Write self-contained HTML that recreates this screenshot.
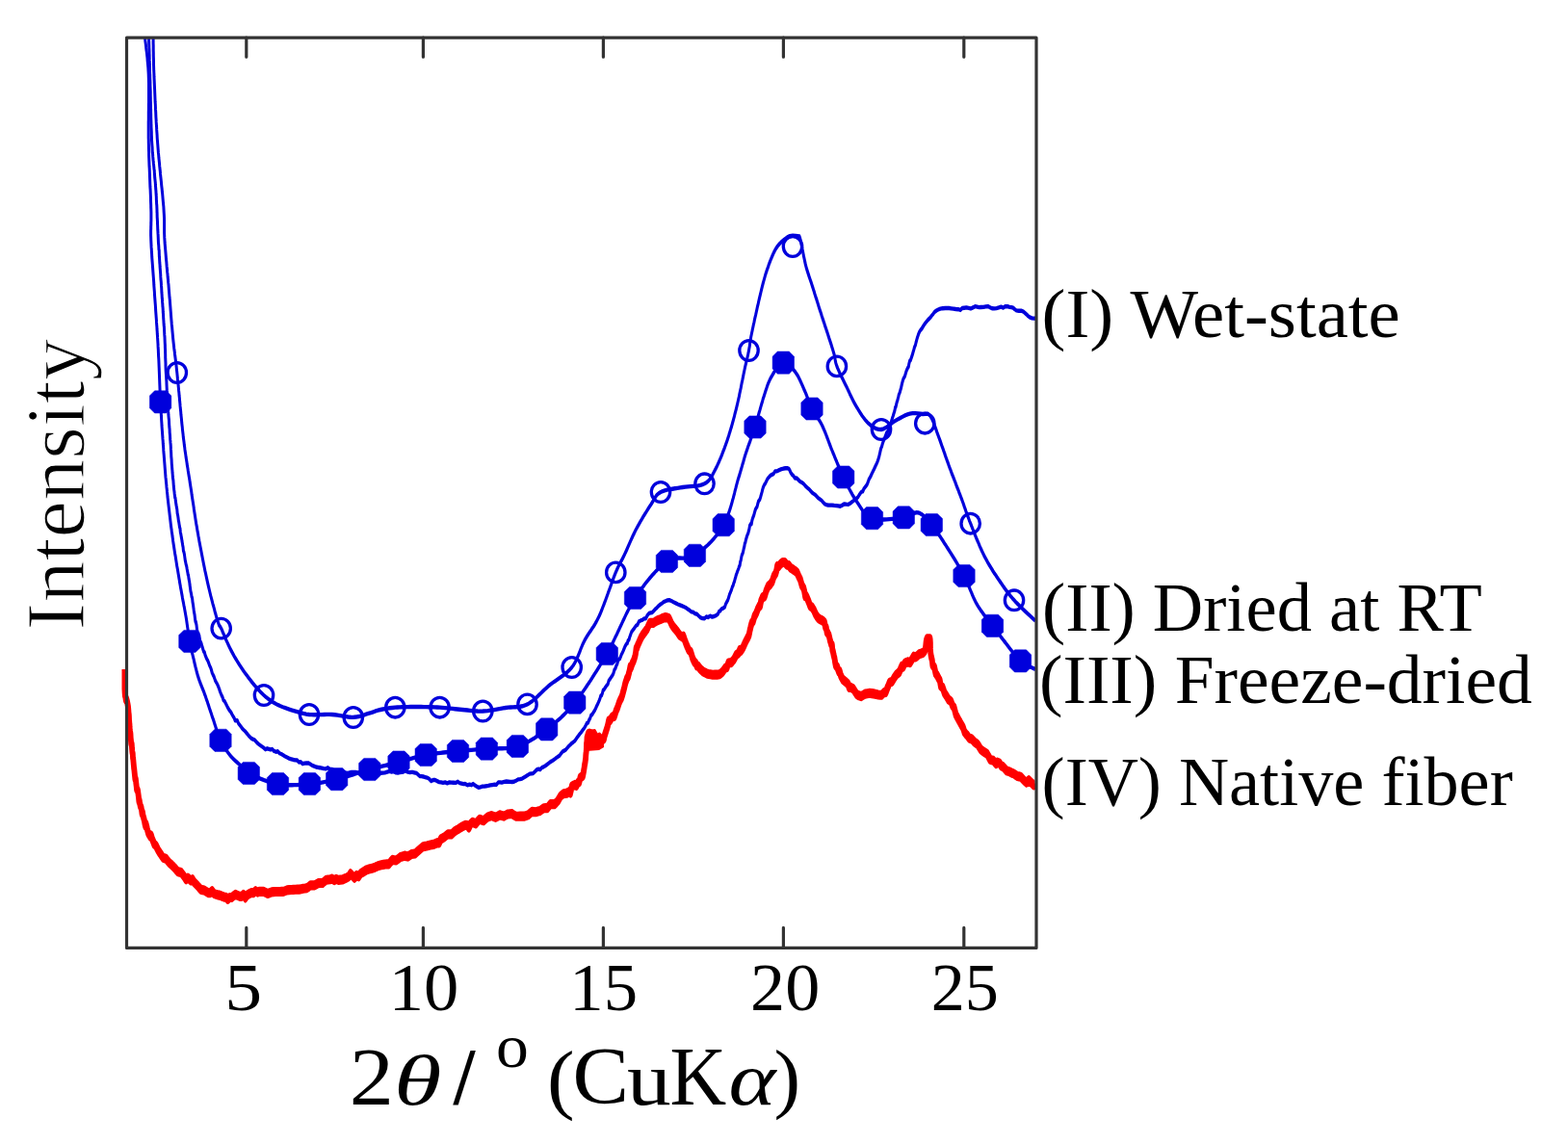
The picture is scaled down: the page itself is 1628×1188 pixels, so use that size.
<!DOCTYPE html>
<html><head><meta charset="utf-8"><title>XRD patterns</title>
<style>html,body{margin:0;padding:0;background:#fff;}svg{display:block;}</style>
</head><body>
<svg width="1628" height="1188" viewBox="0 0 1628 1188">
<defs><clipPath id="c"><rect x="126.5" y="39.2" width="949.5" height="945.1999999999999"/></clipPath></defs>
<rect width="1628" height="1188" fill="#fff"/>
<g clip-path="url(#c)"><polygon points="609,758 618,757 621,762 627,763 627,776 622,779 609,780" fill="#ff0000"/><g transform="scale(1,1.75)"><polyline points="128.0,397.14 128.0,397.90 128.1,398.17 128.1,399.78 128.2,401.53 128.2,402.69 128.3,403.91 128.4,405.53 128.6,407.12 128.8,408.12 129.0,409.02 129.3,410.71 129.7,412.35 130.2,413.17 130.7,415.21 131.2,414.82 131.7,415.68 132.2,416.86 132.6,418.10 133.0,419.36 133.2,420.33 133.4,421.80 133.6,423.32 133.8,424.05 133.9,424.80 134.1,427.67 134.2,428.09 134.3,429.00 134.5,429.90 134.6,431.49 134.8,433.07 135.0,434.27 135.2,435.48 135.5,435.50 135.7,438.01 136.0,439.57 136.2,441.13 136.5,441.47 136.8,441.81 137.0,443.86 137.3,445.90 137.5,446.67 137.8,447.42 138.0,449.84 138.2,449.96 138.4,451.27 138.6,452.55 138.8,453.87 139.0,455.16 139.1,455.79 139.3,456.40 139.5,457.55 139.7,458.70 140.0,460.39 140.3,462.09 140.6,462.32 140.9,462.56 141.2,464.28 141.6,466.00 142.0,468.37 142.3,468.28 142.7,468.80 143.1,469.32 143.5,471.06 143.9,472.80 144.3,475.28 144.8,475.29 145.2,476.71 145.7,478.14 146.1,478.68 146.6,479.21 147.1,481.00 147.5,482.77 148.0,482.13 148.6,484.19 149.2,485.45 149.8,486.69 150.3,488.36 151.0,489.99 151.6,489.04 152.3,490.52 153.0,492.32 153.9,494.21 154.9,495.23 155.9,496.20 156.9,495.70 157.9,497.65 159.0,499.19 160.0,500.74 161.1,501.40 162.1,502.03 163.1,503.26 164.2,504.50 165.5,505.69 167.0,506.91 168.2,507.97 169.4,509.04 170.8,509.29 172.3,509.56 173.8,510.63 175.3,511.70 176.9,512.52 178.4,513.32 180.0,514.26 181.6,515.18 183.2,516.24 184.8,517.29 186.4,517.50 188.1,517.70 189.8,519.00 191.5,520.30 193.2,521.86 195.0,520.94 196.6,521.75 198.2,522.57 199.9,521.82 201.6,523.55 203.3,524.52 205.0,525.48 206.7,526.65 208.5,527.79 210.2,528.08 212.0,528.32 214.0,529.05 216.0,529.77 218.1,529.84 220.2,528.64 222.3,530.33 224.4,530.73 226.5,531.08 228.6,531.36 230.7,531.88 232.7,532.32 234.7,532.43 236.6,533.70 238.5,532.55 240.4,532.60 242.4,531.69 244.5,530.77 246.7,531.32 249.0,531.89 250.8,531.95 252.8,530.77 254.7,532.76 256.8,531.04 258.9,530.38 261.0,529.72 263.1,529.82 265.3,528.68 267.4,529.46 269.5,529.00 271.6,529.03 273.7,529.08 275.8,529.68 277.8,530.29 279.9,529.82 282.0,529.35 284.1,529.25 286.2,529.15 288.3,529.13 290.3,529.12 292.3,529.11 294.3,529.10 296.2,528.66 298.0,528.23 300.3,528.10 302.5,527.99 304.7,527.91 306.7,527.84 308.7,527.82 310.7,527.79 312.7,527.55 314.7,527.28 316.7,527.14 318.7,526.95 320.7,526.13 322.6,525.27 324.5,525.33 326.4,525.38 328.4,524.74 330.5,524.11 332.7,524.02 335.0,523.97 336.8,523.04 338.8,522.12 340.7,521.98 342.8,521.84 344.9,521.48 347.0,522.35 349.1,521.66 351.3,522.19 353.4,522.10 355.5,521.99 357.6,521.45 359.7,520.89 361.8,520.27 363.9,518.39 366.0,519.72 368.1,521.03 370.3,519.36 372.4,520.15 374.5,518.27 376.5,517.63 378.5,516.92 380.4,516.22 382.3,515.89 384.0,515.59 386.4,515.24 388.5,514.91 390.4,514.39 392.3,513.88 394.1,513.59 395.9,513.30 397.9,513.09 400.0,512.86 401.8,512.80 403.7,512.75 405.5,511.49 407.5,510.23 409.4,510.40 411.4,510.54 413.5,509.60 415.6,508.62 417.8,508.22 420.0,507.79 421.8,508.07 423.6,508.32 425.4,507.59 427.3,506.85 429.2,506.68 431.2,506.49 433.1,505.46 435.1,504.41 437.1,503.41 439.1,502.39 441.1,502.21 443.0,502.04 445.0,501.69 446.8,501.39 448.6,501.22 450.4,501.05 452.3,500.56 454.1,500.07 455.9,500.24 457.7,497.95 459.6,497.34 461.4,496.74 463.2,495.88 465.0,495.03 466.9,495.06 468.7,495.10 470.5,494.14 472.3,493.18 474.1,492.59 475.9,492.00 477.7,491.33 479.6,490.66 481.4,490.12 483.2,489.59 485.0,489.78 486.8,491.21 488.6,488.92 490.4,487.88 492.2,488.31 494.0,488.77 495.8,487.48 497.9,486.17 500.0,486.58 502.1,487.02 504.2,485.92 506.3,484.85 508.4,484.44 510.5,484.06 512.6,484.53 514.7,485.03 516.8,484.33 518.9,483.64 521.0,483.98 523.1,484.35 525.2,483.72 527.3,483.13 529.4,483.00 531.5,482.89 533.6,483.68 535.8,484.45 537.9,484.40 540.0,484.31 542.1,484.37 544.2,484.38 546.3,484.03 548.3,483.63 550.3,482.64 552.4,481.61 554.4,481.75 556.5,481.87 558.6,481.48 560.7,481.08 562.7,480.32 564.6,479.56 566.5,479.54 568.3,479.53 569.9,478.36 571.5,477.21 573.8,477.22 575.7,477.24 577.5,476.27 579.1,475.30 580.6,473.86 582.0,472.42 583.5,471.71 585.0,471.00 586.8,470.83 588.6,470.64 590.4,469.97 592.2,470.54 593.8,466.49 595.4,466.18 596.8,465.66 598.5,466.18 600.0,464.53 601.4,464.12 602.5,461.41 603.6,461.03 604.4,460.75 605.1,460.40 605.6,458.89 606.1,457.33 606.6,455.66 607.0,453.95 607.3,453.12 607.6,452.23 607.8,451.18 608.1,450.12 608.2,448.72 608.4,447.34 608.6,446.40 608.8,445.31 608.9,443.41 609.0,441.56 609.1,440.98 609.3,440.50 609.5,437.79 610.1,436.71 610.8,435.52 612.0,435.16 613.3,435.54 614.8,436.55 616.4,436.27 618.0,438.12 620.1,438.59 622.2,437.51 624.0,439.03 625.6,438.80 627.0,438.56 627.7,436.51 628.5,435.10 629.4,433.55 630.3,431.92 631.1,430.38 632.0,427.76 633.3,427.51 634.6,426.37 635.8,425.28 637.0,425.18 637.9,425.06 638.7,423.59 639.5,422.09 640.3,421.03 641.0,420.10 641.9,418.52 642.7,417.14 644.0,415.36 644.5,414.86 645.0,414.32 645.5,413.67 646.2,412.39 646.8,411.05 647.5,409.57 648.2,408.06 648.8,406.49 649.5,404.93 650.2,403.83 650.8,402.78 651.4,402.17 652.0,401.66 652.9,399.68 653.7,397.80 654.4,395.62 655.2,395.98 655.9,394.76 656.6,393.59 657.3,392.82 657.9,392.07 658.7,390.63 659.4,389.29 660.0,387.57 660.6,384.64 661.3,384.44 662.0,382.97 662.8,382.04 663.5,381.09 664.3,380.04 665.1,379.01 666.0,378.01 667.0,377.04 668.1,376.15 669.2,375.26 670.5,374.23 671.8,373.25 673.2,371.39 674.7,369.63 676.4,369.62 678.3,369.66 680.2,368.93 682.2,368.29 684.0,367.83 685.7,367.50 688.5,366.72 690.9,366.36 693.2,366.58 694.6,366.98 695.9,368.55 697.2,370.29 698.5,371.48 700.0,372.63 701.3,373.49 702.7,374.38 704.2,375.67 705.7,376.97 707.1,377.47 708.4,377.97 709.6,377.56 710.8,379.64 711.8,381.24 712.9,382.86 714.0,384.25 715.0,385.64 716.0,386.20 717.1,386.81 718.1,388.60 719.0,390.36 720.0,391.68 721.0,392.89 722.3,393.48 723.5,395.12 724.9,395.30 726.7,396.73 728.2,397.59 730.0,398.51 731.9,399.13 733.8,399.67 735.7,400.01 737.5,400.14 739.9,400.40 742.3,400.32 744.6,400.37 747.0,400.12 748.5,399.54 750.0,398.80 751.6,397.57 753.1,396.25 754.7,396.11 756.2,393.51 757.7,393.32 759.1,393.20 760.5,392.35 761.8,391.50 763.1,390.12 764.4,388.69 765.7,388.10 767.0,387.42 768.1,385.62 769.2,386.21 770.4,385.17 771.6,384.09 772.7,382.63 773.8,381.18 774.8,380.06 775.8,378.99 776.6,378.12 777.5,377.05 778.1,375.50 778.6,373.98 779.1,372.90 779.5,371.82 780.0,370.73 780.6,369.63 781.3,369.10 781.9,368.62 782.6,367.27 783.3,365.89 784.1,365.02 785.0,364.06 786.0,362.59 786.7,361.51 787.5,360.64 788.3,359.71 789.2,359.48 790.1,356.75 791.0,355.51 791.9,354.28 792.8,354.16 793.7,354.07 794.6,352.42 795.4,350.83 796.5,349.34 797.6,347.91 798.7,347.35 799.7,346.84 800.7,345.98 801.7,345.15 802.6,343.53 803.5,341.92 804.5,341.06 805.4,340.18 806.2,338.63 807.0,335.95 807.9,336.35 808.9,335.75 810.7,334.51 812.7,333.69 814.8,333.72 817.0,335.25 818.9,335.42 820.9,337.03 822.9,337.71 824.8,338.52 826.4,339.16 827.5,339.72 828.4,340.84 829.3,342.06 830.1,342.95 830.9,343.90 831.8,345.76 832.6,347.35 833.4,348.13 834.3,348.96 835.1,350.73 836.0,353.72 836.9,353.50 837.7,354.46 838.5,355.57 839.5,356.93 840.4,358.31 841.3,359.62 842.2,360.01 843.1,360.34 844.0,361.16 845.1,362.15 846.1,363.47 847.1,364.74 848.2,365.72 849.3,366.60 850.9,367.36 852.7,367.89 854.5,368.50 856.0,369.36 857.0,372.07 857.8,372.45 858.6,375.20 859.3,375.52 860.0,376.34 860.6,376.92 861.2,378.42 861.8,379.94 862.4,380.98 862.9,382.11 863.5,382.54 863.9,382.78 864.3,385.79 864.8,386.41 865.2,387.55 865.6,388.69 866.0,389.72 866.5,390.67 867.0,392.65 867.7,394.87 868.5,395.39 869.3,395.83 870.1,397.24 870.9,398.58 871.8,398.41 872.9,400.78 874.0,402.04 875.1,403.23 876.3,403.81 877.7,404.46 878.9,405.07 880.3,405.73 881.7,408.00 883.2,407.76 884.6,408.33 886.0,408.79 887.9,410.54 889.7,412.12 891.7,412.74 894.0,413.18 895.9,412.55 898.2,411.80 900.6,411.58 902.9,411.32 905.1,411.48 907.0,411.67 909.7,411.97 911.8,412.26 914.0,412.43 915.3,412.43 916.7,411.66 918.2,410.74 919.6,410.89 921.1,408.53 922.5,406.68 923.7,404.95 924.9,404.73 926.1,404.46 927.3,403.35 928.4,402.26 929.6,401.24 930.7,400.30 932.2,399.57 933.6,398.94 935.0,397.08 936.4,395.26 937.8,395.73 939.5,393.51 941.1,393.09 942.9,392.73 944.8,393.26 946.6,391.59 948.6,389.52 950.7,389.96 952.6,389.07 954.3,388.16 956.6,387.72 958.5,387.29 960.0,386.30 960.7,385.31 961.2,383.16 961.6,380.94 962.0,379.79 962.5,379.07 965.5,379.00 965.7,379.68 965.8,380.56 965.9,381.62 965.9,383.32 966.0,385.09 966.1,386.18 966.2,387.22 966.5,388.53 966.9,389.75 967.3,390.78 967.8,391.79 968.3,394.67 968.8,395.08 969.5,395.50 970.1,395.92 970.8,397.78 971.5,399.65 972.3,400.28 973.1,400.91 974.0,401.92 974.9,402.93 975.8,403.80 976.8,407.13 977.8,407.58 978.7,407.86 979.7,409.55 980.6,411.20 981.6,412.06 982.6,412.94 983.7,413.98 984.8,415.11 986.0,415.57 987.3,416.17 988.1,417.36 988.9,418.63 989.8,419.30 990.7,420.03 991.6,422.03 992.5,424.05 993.5,425.15 994.5,426.26 995.4,427.23 996.4,428.18 997.3,429.13 998.2,430.03 999.1,430.94 999.9,431.77 1000.7,433.13 1001.4,434.38 1003.0,435.60 1004.3,436.35 1005.4,437.29 1006.4,438.09 1007.6,438.25 1009.0,438.58 1010.4,439.48 1011.8,440.36 1013.4,441.00 1015.0,441.66 1016.7,443.20 1018.4,444.81 1020.3,445.65 1021.7,446.27 1023.2,446.73 1024.8,447.26 1026.5,448.98 1028.1,450.72 1029.8,451.06 1031.4,451.35 1032.9,452.34 1034.3,453.22 1035.5,452.32 1037.9,452.94 1039.7,454.62 1041.3,454.90 1043.0,455.89 1044.9,457.25 1046.8,457.66 1048.7,458.08 1050.6,458.69 1052.5,459.07 1054.4,459.81 1056.3,460.52 1058.2,460.78 1060.1,461.11 1061.9,462.26 1063.8,463.42 1065.8,464.39 1068.2,462.95 1070.9,464.49 1073.3,465.95 1075.0,465.37" fill="none" stroke="#ff0000" stroke-width="5.8" stroke-linejoin="round" stroke-linecap="butt"/></g><g transform="scale(1,1.45)" fill="none" stroke="#0000dc" stroke-width="3.0" stroke-linejoin="round"><polyline points="154.5,26.21 154.5,26.55 154.6,27.25 154.6,28.55 154.6,29.03 154.7,30.58 154.7,31.30 154.8,32.88 154.8,34.52 154.9,34.82 155.0,37.00 155.0,38.20 155.1,39.45 155.1,40.40 155.2,43.19 155.3,44.41 155.3,45.64 155.4,47.54 155.5,50.36 155.5,50.79 155.6,53.03 155.7,53.74 155.7,55.34 155.8,57.17 155.9,58.96 155.9,60.78 156.0,62.56 156.1,64.26 156.1,64.14 156.2,65.56 156.2,66.99 156.2,67.75 156.3,70.34 156.3,71.96 156.4,73.60 156.4,74.71 156.5,75.83 156.5,77.10 156.6,78.38 156.6,80.23 156.7,82.08 156.7,82.79 156.7,83.50 156.8,85.53 156.9,87.56 156.9,88.53 157.0,89.50 157.0,90.79 157.1,92.07 157.2,93.43 157.3,94.79 157.3,96.29 157.4,97.79 157.5,100.43 157.6,101.23 157.7,102.07 157.8,103.04 158.0,104.79 158.1,105.62 158.2,108.00 158.4,109.46 158.6,110.66 158.7,111.86 158.9,113.39 159.1,114.92 159.3,115.93 159.4,116.94 159.6,118.31 159.8,119.68 160.0,121.15 160.2,121.71 160.4,124.34 160.6,126.06 160.7,127.22 160.9,128.37 161.1,129.64 161.3,130.90 161.4,132.46 161.6,134.01 161.7,135.26 161.9,136.51 162.0,137.74 162.1,139.03 162.3,140.81 162.4,143.49 162.5,143.89 162.6,146.12 162.7,146.24 162.8,147.28 162.9,148.91 163.0,150.53 163.0,151.87 163.1,152.29 163.2,155.75 163.3,156.47 163.4,157.73 163.5,158.99 163.5,160.02 163.6,161.05 163.7,162.95 163.8,164.85 163.9,165.57 164.0,167.20 164.1,167.90 164.2,169.51 164.3,171.16 164.4,172.80 164.5,174.65 164.6,174.68 164.8,176.33 164.9,177.99 165.0,179.06 165.2,179.21 165.3,182.01 165.4,183.90 165.6,185.38 165.7,186.87 165.8,188.14 166.0,189.40 166.1,191.05 166.3,192.69 166.4,193.68 166.5,194.66 166.7,196.36 166.8,198.06 167.0,200.31 167.1,200.73 167.3,202.12 167.4,203.51 167.5,204.82 167.7,206.13 167.8,207.81 167.9,209.50 168.1,210.99 168.2,212.48 168.3,213.54 168.5,214.61 168.6,216.18 168.8,217.75 168.9,219.64 169.0,219.70 169.2,221.61 169.3,223.52 169.5,224.90 169.6,226.27 169.7,227.94 169.9,229.60 170.0,230.86 170.1,232.11 170.2,233.06 170.4,234.01 170.5,235.42 170.6,236.81 170.7,238.33 170.8,239.83 170.9,240.60 171.0,241.34 171.1,243.25 171.2,245.07 171.3,246.26 171.4,247.40 171.4,248.67 171.5,249.91 171.6,251.11 171.6,252.30 171.7,254.08 171.7,256.77 171.8,256.64 171.8,257.45 171.9,258.88 172.0,260.37 172.0,261.94 172.1,263.59 172.2,265.59 172.4,267.68 172.5,268.93 172.6,269.45 172.7,270.89 172.8,272.37 172.9,272.77 173.0,275.03 173.1,276.59 173.2,278.17 173.3,279.48 173.5,280.82 173.6,282.26 173.7,283.72 173.8,284.72 174.0,285.73 174.1,286.40 174.2,288.89 174.4,290.33 174.5,291.78 174.7,294.58 174.8,295.57 174.9,297.11 175.1,298.65 175.2,299.52 175.4,300.38 175.5,301.85 175.6,303.31 175.8,305.69 175.9,306.22 176.1,307.60 176.2,309.87 176.3,310.48 176.5,311.96 176.6,313.31 176.7,314.62 176.9,315.95 177.0,317.25 177.2,318.57 177.3,319.86 177.4,321.64 177.6,323.39 177.7,324.76 177.8,327.02 177.9,327.63 178.1,329.14 178.2,330.77 178.3,332.40 178.5,333.52 178.6,334.63 178.7,335.81 178.9,336.98 179.0,338.37 179.2,339.75 179.3,341.11 179.5,342.47 179.7,343.32 179.9,344.19 180.1,346.18 180.3,348.19 180.5,349.48 180.7,350.79 181.0,352.25 181.2,353.73 181.5,355.07 181.7,356.42 182.0,356.61 182.3,358.62 182.6,360.04 182.9,361.45 183.2,362.64 183.5,363.83 183.8,364.74 184.1,367.46 184.4,368.44 184.7,369.42 185.0,370.84 185.4,373.16 185.7,373.77 186.0,375.29 186.3,376.66 186.7,378.03 187.0,378.66 187.3,381.10 187.7,382.28 188.0,383.46 188.3,384.81 188.7,386.17 189.0,387.67 189.4,389.18 189.7,390.53 190.1,391.89 190.4,394.39 190.8,395.06 191.2,396.20 191.5,397.33 191.9,399.36 192.3,401.38 192.7,402.57 193.0,403.75 193.4,404.78 193.8,405.80 194.1,407.26 194.5,408.71 194.9,410.15 195.2,411.59 195.6,412.06 196.0,414.35 196.3,415.52 196.7,416.70 197.0,418.60 197.4,420.57 197.7,422.11 198.0,423.67 198.4,424.73 198.7,425.80 199.0,427.29 199.4,427.88 199.7,429.06 200.0,431.14 200.4,432.63 200.7,434.11 201.0,435.74 201.3,437.37 201.6,438.73 202.0,440.07 202.3,441.88 202.6,443.67 203.0,445.40 203.3,445.28 203.6,446.44 204.0,447.57 204.3,449.46 204.6,451.31 205.0,452.09 205.6,453.52 206.2,453.90 206.7,455.96 207.3,457.58 207.8,459.11 208.4,459.89 208.9,460.62 209.5,462.11 210.2,463.62 210.8,465.13 211.5,466.70 212.3,467.03 213.1,469.30 214.0,470.77 214.6,471.73 215.2,472.55 215.9,473.40 216.6,474.71 217.3,476.06 218.0,477.20 218.8,478.37 219.6,480.17 220.3,481.99 221.1,483.18 222.0,484.38 222.8,485.95 223.6,487.51 224.4,488.54 225.3,489.56 226.1,490.83 226.9,492.07 227.8,493.81 228.6,495.52 229.4,496.89 230.2,498.21 231.0,499.26 232.0,501.51 233.0,501.98 234.0,503.33 235.0,504.71 236.0,506.06 237.0,507.31 238.0,508.54 239.0,509.42 240.0,510.27 241.0,511.71 242.1,513.12 243.1,514.17 244.2,516.10 245.3,516.05 246.4,515.99 247.5,517.97 248.7,519.01 250.1,520.35 251.5,521.67 253.0,522.76 254.6,523.81 256.2,525.18 257.8,526.52 259.4,527.70 261.0,528.84 262.6,529.36 264.2,529.84 265.8,531.04 267.3,532.20 268.7,532.99 270.1,533.73 271.4,534.37 273.6,535.42 275.6,536.73 277.4,536.05 279.2,536.50 280.9,536.89 282.6,536.46 284.5,537.89 286.6,538.46 288.4,538.05 290.2,539.49 292.1,540.02 294.1,540.86 296.1,541.71 298.1,542.44 300.2,543.17 302.4,543.65 304.6,544.13 306.8,544.38 308.6,544.51 310.4,545.97 312.3,545.62 314.2,547.06 316.1,546.69 318.1,546.57 320.1,546.45 322.1,547.30 324.1,548.14 326.1,548.72 328.1,549.29 330.1,549.56 332.0,549.81 334.1,550.14 336.2,550.47 338.3,550.61 340.3,549.84 342.4,550.84 344.5,550.93 346.6,551.68 348.6,552.42 350.7,552.32 352.8,552.20 354.9,552.76 357.0,553.28 359.1,553.55 361.1,553.78 363.1,553.41 365.0,553.02 367.0,553.04 369.0,553.05 371.0,553.45 373.1,553.85 375.3,553.66 377.5,553.47 380.0,553.03 382.5,553.51 384.3,552.57 386.3,552.52 388.3,552.52 390.5,552.51 392.7,553.06 395.0,553.60 397.4,553.49 399.7,553.38 402.1,552.84 404.4,552.31 406.7,552.80 408.9,552.38 411.1,553.39 413.1,553.50 415.1,553.25 416.9,553.02 418.5,552.80 420.0,551.69 423.4,552.87 425.6,553.17 427.1,553.06 428.4,553.03 430.1,553.32 432.6,553.75 434.1,554.77 435.8,555.85 437.6,556.00 439.5,556.19 441.4,556.56 443.4,556.94 445.5,557.72 447.6,559.41 449.7,558.58 451.8,558.64 453.9,559.37 455.9,560.06 457.9,560.32 460.0,560.56 462.2,560.31 464.4,560.94 466.6,560.22 468.7,560.38 470.9,560.52 473.1,560.65 475.2,559.80 477.2,560.76 479.2,561.13 481.2,561.51 483.0,561.40 485.3,562.30 487.4,561.80 489.4,562.23 491.3,561.42 493.1,562.40 495.0,563.24 496.8,564.01 498.8,563.68 500.8,563.23 502.8,563.15 504.8,562.95 506.9,562.68 509.1,562.34 511.2,562.11 513.4,561.87 515.4,561.95 517.4,560.26 519.3,560.29 521.0,560.43 523.5,559.94 525.8,559.65 527.8,559.81 529.7,559.96 531.6,559.99 533.6,559.83 535.7,559.09 537.8,558.24 539.9,557.99 542.1,557.67 544.2,556.78 546.3,555.86 548.1,555.07 549.9,554.21 551.8,554.04 553.6,553.85 555.4,552.57 557.2,551.31 559.0,550.77 560.8,551.17 562.6,549.75 564.4,549.24 566.2,548.41 567.9,547.55 569.7,546.60 571.5,545.60 573.1,544.97 574.6,544.32 576.2,543.51 577.7,542.68 579.3,541.97 580.9,541.23 582.4,539.78 584.0,538.30 585.6,537.66 587.2,537.02 588.8,535.78 590.4,534.50 592.0,533.44 593.6,532.33 595.2,531.51 596.8,530.62 598.1,529.34 599.4,527.99 600.7,526.84 602.0,525.64 603.3,524.53 604.5,523.40 605.8,522.23 607.0,521.06 608.2,519.44 609.4,517.84 610.5,517.66 611.6,515.67 612.7,514.37 613.7,512.16 614.8,511.87 615.8,510.66 616.7,509.59 617.7,508.51 618.6,507.12 619.5,505.72 620.4,504.42 621.3,503.08 622.2,501.63 623.0,500.18 623.8,498.23 624.6,498.13 625.4,496.62 626.2,494.25 627.0,494.09 628.0,492.86 629.1,491.74 630.1,490.72 631.1,490.04 632.1,487.45 633.3,486.33 634.6,484.92 635.4,484.18 636.2,483.34 637.0,482.04 637.9,479.77 638.9,478.82 639.8,476.92 640.8,475.52 641.7,473.21 642.6,472.08 643.5,471.88 644.4,470.30 645.2,468.79 646.0,467.75 647.0,466.30 648.0,464.63 648.9,463.02 649.7,462.04 650.5,461.11 651.3,460.77 652.1,458.68 652.9,458.45 653.7,456.46 654.8,454.29 655.9,452.29 656.9,451.39 658.0,450.58 659.1,449.34 660.4,448.11 661.9,447.44 663.5,445.00 665.2,444.46 667.0,443.97 668.8,443.01 670.5,443.00 672.2,440.60 673.9,439.17 675.5,438.91 677.2,438.65 678.9,437.38 680.6,436.05 682.3,435.03 683.9,433.84 685.5,432.93 687.2,432.14 689.0,431.11 691.0,430.50 692.9,429.96 694.9,429.69 697.1,430.35 699.3,431.17 701.6,431.95 703.8,432.75 706.0,433.34 707.9,433.86 709.9,434.50 712.0,435.21 714.0,436.15 716.0,437.09 717.9,438.21 719.7,438.36 721.4,439.39 723.7,439.83 725.6,441.17 727.4,442.36 729.3,442.83 731.5,442.94 733.3,441.66 735.3,442.08 737.3,441.10 739.4,441.78 741.5,441.38 743.5,440.79 745.4,439.69 746.6,437.87 747.9,437.52 749.0,436.18 750.2,435.79 751.3,435.31 752.5,434.81 753.6,432.39 754.6,431.09 755.7,429.71 756.8,427.44 757.5,425.64 758.2,424.54 758.9,423.37 759.7,421.86 760.4,420.30 761.1,419.43 761.8,417.62 762.4,416.66 763.1,414.79 763.8,413.19 764.4,411.60 765.1,410.35 765.7,409.13 766.3,408.10 766.9,407.11 767.5,405.61 768.1,405.03 768.7,402.29 769.2,401.37 769.8,398.99 770.3,397.52 770.8,396.73 771.3,395.95 771.8,394.33 772.3,392.71 772.8,391.47 773.3,389.33 773.9,388.46 774.4,386.69 775.0,385.26 775.6,383.83 776.1,382.92 776.7,382.01 777.3,380.43 777.9,378.87 778.5,376.34 779.1,375.64 779.7,374.98 780.2,375.25 780.8,372.84 781.4,371.36 782.0,370.26 782.8,368.83 783.6,366.76 784.4,364.72 785.2,363.84 786.0,363.00 786.7,361.00 787.5,359.05 788.2,358.33 788.9,357.65 789.6,356.10 790.4,354.09 791.1,352.38 791.7,350.74 792.2,349.43 792.9,348.19 793.6,347.15 794.6,346.16 795.8,344.46 797.0,342.82 798.4,341.65 799.9,340.54 801.5,339.93 803.1,339.40 804.7,337.53 806.8,337.44 809.0,336.63 811.4,335.94 813.6,335.54 815.7,335.35 817.4,335.26 819.1,335.76 820.1,337.00 821.0,338.49 822.4,339.91 823.8,340.78 825.3,342.45 827.0,342.33 828.8,343.53 830.6,344.83 832.5,345.55 833.9,346.13 835.4,347.33 837.0,348.60 838.6,349.51 840.2,350.43 841.8,351.71 843.4,352.95 845.0,353.73 846.6,354.47 848.2,355.66 849.8,356.83 851.4,357.62 853.0,358.35 854.6,359.71 856.2,360.96 857.8,361.39 859.9,361.79 861.9,361.86 864.0,361.76 866.1,362.01 868.2,362.16 870.4,362.38 872.4,362.59 874.5,361.80 876.6,360.95 878.7,361.17 880.9,361.25 883.0,360.33 885.0,359.21 886.4,358.52 887.8,357.70 889.2,356.98 890.6,356.18 891.9,354.72 893.3,353.22 894.6,352.13 895.8,351.96 896.9,350.06 898.0,349.11 899.2,348.02 900.3,346.91 901.3,345.09 902.2,343.27 903.0,342.33 903.8,341.40 904.7,340.04 905.5,338.73 906.5,337.35 907.5,336.04 908.4,334.66 909.3,333.29 910.2,332.04 911.0,330.74 911.8,329.20 912.5,327.57 913.0,326.15 913.5,324.69 914.0,323.11 914.5,321.55 915.0,320.58 915.6,319.68 916.3,317.82 917.1,316.10 917.9,314.72 918.7,313.29 919.6,311.73 920.6,309.92 921.2,309.35 921.9,308.75 922.6,307.56 923.3,306.32 924.1,304.85 924.8,303.30 925.6,301.53 926.4,299.67 927.2,297.97 928.0,296.16 928.5,295.07 929.0,293.90 929.5,291.83 930.0,291.53 930.6,289.91 931.1,288.25 931.7,287.01 932.2,285.76 932.8,284.14 933.3,282.53 933.9,281.60 934.4,280.70 934.9,279.32 935.5,277.99 936.0,276.39 936.5,274.85 937.0,273.50 937.8,271.51 938.6,270.45 939.4,269.52 940.2,267.65 941.0,265.84 941.7,264.61 942.5,263.40 943.2,262.79 943.9,260.32 944.6,258.35 945.3,258.12 946.0,256.73 946.7,255.31 947.4,253.83 948.0,252.37 948.7,250.69 949.3,249.06 949.9,247.95 950.5,246.94 951.0,245.42 951.9,243.09 952.5,241.67 953.1,240.45 953.8,239.00 954.7,237.52 955.8,236.39 957.1,235.32 958.4,233.80 959.8,232.28 961.2,231.01 962.7,229.69 964.3,228.54 965.9,227.43 967.3,226.15 968.6,225.04 970.3,223.45 972.3,222.41 974.1,221.73 976.3,221.12 978.7,220.83 981.5,220.72 983.4,220.63 985.4,220.67 987.5,220.90 989.8,221.13 992.4,221.39 995.3,221.54 997.1,222.03 999.0,220.66 1001.2,220.50 1003.4,220.31 1005.6,220.66 1007.9,221.00 1010.2,220.22 1012.4,219.45 1014.5,219.77 1016.5,220.11 1018.3,220.00 1021.1,219.96 1023.6,219.63 1025.8,219.35 1027.9,220.12 1030.0,220.84 1032.2,220.90 1034.6,220.78 1037.0,220.28 1039.4,219.72 1041.7,220.39 1044.0,219.37 1046.0,219.45 1048.2,219.91 1050.1,220.09 1051.9,220.40 1053.5,221.47 1055.2,222.31 1057.8,222.58 1060.3,222.56 1062.6,223.15 1064.3,224.19 1065.9,225.24 1067.4,226.30 1069.0,227.17 1071.4,227.85 1073.8,228.06 1075.5,228.00"/><polyline points="159.0,26.21 159.0,27.19 159.1,28.32 159.1,29.59 159.1,30.99 159.2,32.52 159.2,34.16 159.2,35.91 159.3,37.76 159.3,39.70 159.4,41.72 159.5,43.82 159.5,45.99 159.6,48.22 159.7,50.50 159.9,52.82 160.0,55.17 160.1,56.60 160.2,58.08 160.3,59.59 160.4,61.15 160.5,62.75 160.6,64.38 160.7,66.04 160.8,67.73 160.9,69.45 161.0,71.20 161.1,72.96 161.3,74.75 161.4,76.55 161.5,78.37 161.7,80.19 161.8,82.03 161.9,83.87 162.1,85.72 162.2,87.57 162.4,89.42 162.6,91.26 162.7,93.09 162.9,94.92 163.1,96.73 163.2,98.53 163.4,100.31 163.6,102.07 163.8,103.84 164.0,105.64 164.2,107.46 164.4,109.31 164.7,111.19 164.9,113.07 165.2,114.98 165.5,116.88 165.7,118.80 166.0,120.72 166.3,122.63 166.5,124.53 166.8,126.43 167.1,128.31 167.4,130.17 167.6,132.01 167.9,133.82 168.2,135.61 168.4,137.36 168.7,139.07 168.9,140.74 169.1,142.36 169.3,143.93 169.5,145.45 169.7,146.92 169.9,148.32 170.0,149.66 170.2,152.19 170.4,154.40 170.5,156.35 170.6,158.08 170.6,159.65 170.6,161.11 170.6,162.50 170.6,163.89 170.6,165.31 170.6,166.82 170.7,168.48 170.8,170.32 171.0,172.41 171.1,173.89 171.3,175.43 171.5,177.02 171.7,178.66 171.9,180.35 172.1,182.07 172.3,183.83 172.5,185.62 172.8,187.43 173.0,189.27 173.2,191.11 173.5,192.97 173.7,194.83 174.0,196.69 174.2,198.55 174.5,200.40 174.7,202.23 175.0,204.04 175.2,205.83 175.4,207.59 175.6,209.34 175.8,211.11 176.0,212.89 176.3,214.68 176.5,216.48 176.7,218.29 176.9,220.09 177.1,221.89 177.3,223.69 177.5,225.47 177.7,227.25 177.9,229.00 178.1,230.74 178.3,232.46 178.6,234.14 178.8,235.80 179.0,237.43 179.2,239.01 179.4,240.56 179.6,242.07 179.9,244.09 180.2,245.92 180.5,247.62 180.7,249.20 181.0,250.72 181.3,252.19 181.5,253.66 181.8,255.17 182.1,256.75 182.4,258.43 182.7,260.25 183.1,262.24 183.4,264.45 183.8,266.90 184.0,268.28 184.2,269.73 184.4,271.26 184.7,272.85 184.9,274.49 185.1,276.19 185.4,277.94 185.6,279.73 185.9,281.56 186.1,283.42 186.4,285.30 186.6,287.20 186.9,289.12 187.1,291.05 187.4,292.98 187.7,294.91 187.9,296.84 188.2,298.75 188.5,300.64 188.7,302.51 189.0,304.35 189.3,306.16 189.5,307.92 189.8,309.65 190.1,311.32 190.3,312.93 190.6,314.48 191.0,316.50 191.3,318.46 191.7,320.36 192.0,322.21 192.4,324.01 192.8,325.77 193.1,327.49 193.5,329.19 193.9,330.85 194.2,332.50 194.6,334.13 195.0,335.75 195.3,337.37 195.7,338.98 196.1,340.60 196.5,342.23 196.9,343.88 197.2,345.55 197.6,347.24 198.0,348.97 198.4,350.71 198.8,352.46 199.1,354.21 199.5,355.97 199.9,357.73 200.3,359.49 200.7,361.25 201.1,363.02 201.4,364.78 201.8,366.55 202.2,368.32 202.6,370.09 203.0,371.85 203.4,373.62 203.8,375.38 204.3,377.14 204.7,378.89 205.1,380.65 205.6,382.39 206.0,384.14 206.5,385.89 206.9,387.65 207.4,389.43 207.9,391.21 208.4,393.00 208.9,394.79 209.4,396.59 209.9,398.38 210.4,400.16 210.9,401.94 211.4,403.71 211.9,405.46 212.4,407.19 212.9,408.91 213.5,410.60 214.0,412.26 214.5,413.90 215.0,415.51 215.5,417.08 216.0,418.62 216.7,420.65 217.4,422.69 218.1,424.73 218.8,426.75 219.6,428.75 220.3,430.71 221.0,432.62 221.8,434.47 222.5,436.25 223.1,437.95 223.8,439.56 224.4,441.06 225.0,442.45 225.5,443.71 226.0,444.83 227.5,447.81 228.3,448.45 229.7,450.07 230.6,451.41 231.5,452.98 232.6,454.73 233.8,456.60 234.9,458.52 236.2,460.43 237.4,462.28 238.6,464.00 239.8,465.61 241.0,467.18 242.2,468.71 243.4,470.22 244.7,471.72 246.0,473.21 247.3,474.70 248.7,476.21 250.2,477.74 251.7,479.29 253.2,480.85 254.8,482.40 256.5,483.93 258.1,485.43 259.7,486.88 261.3,488.28 263.1,489.81 264.9,491.31 266.7,492.76 268.6,494.16 270.4,495.49 272.2,496.75 274.0,497.93 276.1,499.19 278.1,500.33 280.2,501.38 282.2,502.35 284.4,503.26 286.6,504.14 288.9,504.96 291.3,505.70 293.7,506.38 296.3,507.02 298.9,507.65 301.7,508.28 304.2,508.83 306.8,509.41 309.5,509.98 312.2,510.52 315.0,511.01 318.0,511.42 321.0,511.72 323.4,511.86 326.0,511.92 328.6,511.91 331.3,511.85 334.0,511.78 336.7,511.71 339.4,511.66 342.0,511.66 344.6,511.72 347.5,511.90 350.4,512.18 353.2,512.51 356.1,512.85 358.9,513.18 361.6,513.45 364.2,513.62 366.6,513.66 369.6,513.48 372.5,513.12 375.1,512.64 377.7,512.09 380.1,511.53 382.5,511.03 385.2,510.47 387.6,509.88 390.0,509.30 392.4,508.75 395.0,508.28 397.3,507.93 399.7,507.62 402.1,507.34 404.6,507.09 407.3,506.88 410.3,506.69 412.7,506.57 415.2,506.47 417.8,506.39 420.6,506.32 423.4,506.27 426.2,506.23 429.1,506.21 432.0,506.21 434.6,506.21 437.3,506.23 440.0,506.26 442.8,506.29 445.6,506.35 448.4,506.41 451.2,506.49 453.9,506.58 456.6,506.69 459.3,506.82 461.9,506.98 464.6,507.16 467.2,507.35 469.8,507.55 472.4,507.75 475.0,507.94 477.5,508.12 480.0,508.28 482.7,508.46 485.4,508.65 488.0,508.86 490.6,509.04 493.2,509.20 495.9,509.31 498.5,509.35 501.3,509.31 503.8,509.19 506.4,509.01 509.1,508.76 511.7,508.48 514.4,508.16 517.1,507.83 519.8,507.50 522.4,507.19 525.0,506.90 527.6,506.68 530.1,506.56 532.6,506.48 535.1,506.40 537.6,506.27 540.0,506.05 542.5,505.70 545.0,505.17 547.5,504.41 549.5,503.61 551.6,502.64 553.6,501.54 555.6,500.34 557.7,499.05 559.7,497.71 561.7,496.34 563.8,494.96 565.8,493.60 567.9,492.28 570.0,491.03 572.0,489.95 574.0,488.91 576.1,487.88 578.2,486.88 580.3,485.87 582.4,484.85 584.5,483.82 586.5,482.75 588.5,481.64 590.3,480.47 592.1,479.24 593.7,477.93 595.2,476.53 596.5,475.05 597.7,473.49 598.8,471.88 599.9,470.22 600.9,468.53 601.9,466.83 602.8,465.13 603.8,463.45 604.8,461.79 605.9,460.18 607.0,458.62 608.3,457.03 609.6,455.55 610.9,454.15 612.2,452.80 613.6,451.44 614.9,450.06 616.3,448.61 617.7,447.05 619.1,445.35 620.5,443.47 622.0,441.38 622.9,440.03 623.8,438.57 624.7,437.01 625.6,435.35 626.6,433.63 627.6,431.84 628.6,430.01 629.6,428.15 630.6,426.27 631.5,424.40 632.5,422.54 633.5,420.71 634.4,418.92 635.3,417.19 636.2,415.53 637.0,413.96 637.8,412.50 638.6,411.15 639.3,409.93 641.0,407.25 642.3,405.26 643.4,403.75 644.4,402.47 645.5,401.21 646.6,399.73 648.0,397.79 648.9,396.44 649.9,394.98 650.9,393.45 651.9,391.86 652.9,390.22 654.0,388.54 655.1,386.84 656.2,385.14 657.3,383.46 658.5,381.80 659.6,380.18 660.8,378.62 662.1,376.94 663.5,375.23 664.9,373.50 666.4,371.78 667.8,370.08 669.3,368.42 670.8,366.80 672.2,365.26 673.5,363.79 674.8,362.43 676.0,361.17 677.8,359.15 679.2,357.41 680.5,355.92 681.9,354.62 683.7,353.47 686.0,352.41 688.0,351.79 690.2,351.27 692.7,350.84 695.3,350.47 698.0,350.15 700.7,349.85 703.5,349.57 706.2,349.28 708.8,348.97 711.4,348.68 714.1,348.48 716.8,348.33 719.5,348.18 722.2,348.01 724.8,347.79 727.2,347.47 729.5,347.02 731.5,346.41 733.7,345.46 735.5,344.40 737.0,343.19 738.4,341.81 739.7,340.23 741.0,338.42 742.6,336.34 743.5,335.10 744.5,333.76 745.4,332.33 746.4,330.83 747.4,329.26 748.4,327.63 749.4,325.95 750.3,324.23 751.3,322.49 752.3,320.73 753.2,318.97 754.1,317.20 755.0,315.45 755.8,313.82 756.6,312.16 757.3,310.48 758.1,308.78 758.8,307.06 759.6,305.33 760.3,303.57 761.0,301.81 761.7,300.03 762.4,298.24 763.0,296.45 763.7,294.65 764.4,292.84 765.0,291.03 765.6,289.31 766.2,287.53 766.8,285.71 767.4,283.85 767.9,281.97 768.5,280.08 769.1,278.20 769.6,276.34 770.1,274.50 770.7,272.71 771.2,270.97 771.7,269.30 772.1,267.71 772.6,266.22 773.0,264.83 773.7,262.50 774.4,260.47 775.0,258.69 775.6,257.07 776.1,255.56 776.6,254.09 777.0,252.61 777.5,251.03 777.9,249.35 778.3,247.93 778.5,246.60 778.8,245.18 779.2,243.49 779.7,241.37 780.5,238.62 780.9,237.33 781.3,235.90 781.8,234.35 782.3,232.69 782.9,230.94 783.4,229.11 784.0,227.22 784.7,225.30 785.3,223.34 785.9,221.39 786.5,219.44 787.2,217.51 787.8,215.63 788.4,213.81 789.0,212.06 789.6,210.41 790.1,208.87 790.6,207.45 791.4,205.13 792.2,203.01 793.0,201.06 793.7,199.26 794.4,197.57 795.1,195.99 795.8,194.47 796.5,192.99 797.3,191.54 798.0,190.07 799.1,188.00 800.2,186.04 801.3,184.17 802.4,182.42 803.5,180.78 804.6,179.26 805.8,177.86 807.5,176.14 809.3,174.68 811.1,173.44 812.9,172.38 814.4,171.45 817.4,169.89 820.0,169.10 823.1,168.79 826.0,168.83 830.0,169.31 830.6,170.51 831.2,172.13 831.8,174.05 832.4,176.16 833.0,178.34 833.5,179.98 834.0,181.73 834.5,183.58 835.1,185.48 835.7,187.40 836.3,189.31 837.0,191.17 837.7,192.95 838.5,194.66 839.3,196.36 840.1,198.09 841.0,199.90 842.0,201.86 843.0,204.00 843.7,205.49 844.4,207.06 845.2,208.72 845.9,210.43 846.7,212.18 847.6,213.97 848.4,215.76 849.2,217.56 850.0,219.33 850.8,221.07 851.6,222.76 852.5,224.59 853.3,226.45 854.2,228.31 855.1,230.16 856.0,231.99 856.8,233.80 857.7,235.56 858.5,237.27 859.3,238.91 860.0,240.48 861.0,242.61 862.0,244.62 862.9,246.52 863.7,248.34 864.5,250.06 865.2,251.72 865.9,253.31 866.6,255.27 867.0,256.92 867.3,258.50 867.9,260.23 868.9,262.34 869.7,263.74 870.7,265.26 871.7,266.87 872.9,268.56 874.1,270.29 875.4,272.03 876.6,273.77 877.8,275.47 879.0,277.10 880.1,278.70 881.2,280.29 882.2,281.87 883.3,283.45 884.4,285.01 885.5,286.55 886.6,288.07 887.8,289.57 889.0,291.03 890.5,292.70 892.0,294.39 893.5,296.08 895.1,297.74 896.8,299.32 898.4,300.78 900.1,302.10 901.7,303.24 904.3,304.78 906.9,306.05 909.6,306.99 912.3,307.52 915.0,307.59 917.3,307.15 919.7,306.26 922.1,305.07 924.6,303.76 927.0,302.47 929.5,301.38 932.0,300.40 934.6,299.40 937.1,298.42 939.7,297.54 942.2,296.80 944.6,296.28 947.5,295.97 950.3,295.95 953.1,296.10 955.7,296.34 958.0,296.55 961.0,296.40 963.5,296.37 966.0,297.93 966.9,299.02 967.9,300.35 968.9,301.90 969.8,303.63 970.8,305.50 971.8,307.47 972.8,309.51 973.9,311.58 975.0,313.66 975.8,315.11 976.6,316.63 977.4,318.20 978.2,319.81 979.1,321.46 979.9,323.14 980.8,324.84 981.6,326.55 982.5,328.26 983.4,329.96 984.3,331.65 985.1,333.32 986.0,334.97 987.0,336.73 987.9,338.49 988.9,340.26 989.9,342.03 990.9,343.79 991.9,345.55 992.8,347.30 993.8,349.04 994.8,350.77 995.7,352.49 996.7,354.18 997.6,355.86 998.6,357.65 999.5,359.40 1000.4,361.10 1001.2,362.79 1002.1,364.46 1002.9,366.14 1003.8,367.83 1004.7,369.55 1005.7,371.30 1006.6,373.10 1007.7,374.97 1008.6,376.49 1009.5,378.07 1010.4,379.69 1011.4,381.34 1012.3,383.02 1013.3,384.72 1014.3,386.42 1015.4,388.11 1016.4,389.80 1017.4,391.45 1018.5,393.08 1019.5,394.66 1020.6,396.19 1021.6,397.66 1022.9,399.44 1024.3,401.17 1025.6,402.85 1027.0,404.47 1028.4,406.06 1029.8,407.61 1031.1,409.13 1032.5,410.62 1034.0,412.10 1035.4,413.57 1036.8,415.03 1038.4,416.62 1039.9,418.16 1041.4,419.67 1042.9,421.15 1044.5,422.61 1046.1,424.06 1047.7,425.50 1049.4,426.94 1051.1,428.39 1053.0,429.86 1054.7,431.14 1056.6,432.50 1058.6,433.90 1060.7,435.33 1062.9,436.76 1065.0,438.17 1067.1,439.52 1069.1,440.80 1070.9,441.97 1072.5,443.02 1073.9,443.91 1075.0,444.62"/><polyline points="150.4,26.21 150.5,27.19 150.7,28.32 150.9,29.59 151.2,30.99 151.5,32.52 151.7,34.16 152.0,35.91 152.4,37.76 152.7,39.70 153.0,41.72 153.2,43.82 153.5,45.99 153.8,48.22 154.0,50.50 154.2,52.82 154.3,55.17 154.4,56.60 154.4,58.08 154.5,59.59 154.5,61.15 154.5,62.75 154.5,64.38 154.5,66.04 154.5,67.73 154.5,69.45 154.5,71.20 154.5,72.96 154.4,74.75 154.4,76.55 154.4,78.37 154.3,80.19 154.3,82.03 154.3,83.87 154.3,85.72 154.2,87.57 154.2,89.42 154.2,91.26 154.2,93.09 154.2,94.92 154.2,96.73 154.2,98.53 154.3,100.31 154.3,102.07 154.4,103.84 154.4,105.64 154.5,107.46 154.6,109.31 154.6,111.19 154.7,113.07 154.8,114.98 154.9,116.88 155.0,118.80 155.2,120.72 155.3,122.63 155.4,124.53 155.5,126.43 155.6,128.31 155.7,130.17 155.8,132.01 155.9,133.82 156.1,135.61 156.2,137.36 156.3,139.07 156.4,140.74 156.5,142.36 156.5,143.93 156.6,145.45 156.7,146.92 156.7,148.32 156.8,149.66 156.9,152.19 156.9,154.40 156.9,156.35 156.9,158.08 156.8,159.65 156.8,161.11 156.7,162.50 156.7,163.89 156.6,165.31 156.6,166.82 156.6,168.48 156.7,170.32 156.8,172.41 156.9,173.89 157.0,175.43 157.1,177.02 157.3,178.66 157.4,180.35 157.6,182.07 157.7,183.83 157.9,185.62 158.1,187.43 158.3,189.27 158.5,191.11 158.7,192.97 158.9,194.83 159.1,196.69 159.3,198.55 159.5,200.40 159.7,202.23 159.8,204.04 160.0,205.83 160.2,207.59 160.4,209.34 160.5,211.11 160.7,212.90 160.9,214.70 161.1,216.51 161.3,218.33 161.5,220.15 161.6,221.96 161.8,223.76 162.0,225.56 162.2,227.34 162.4,229.10 162.5,230.84 162.7,232.56 162.9,234.24 163.0,235.89 163.2,237.50 163.3,239.07 163.5,240.59 163.6,242.07 163.8,244.24 164.0,246.30 164.1,248.26 164.3,250.13 164.4,251.94 164.5,253.69 164.6,255.40 164.8,257.08 164.9,258.75 165.0,260.41 165.1,262.08 165.2,263.78 165.3,265.52 165.4,267.40 165.5,269.26 165.6,271.08 165.7,272.89 165.8,274.69 165.9,276.49 166.0,278.30 166.1,280.14 166.2,282.00 166.3,283.90 166.5,285.85 166.6,287.86 166.7,289.50 166.9,291.14 167.0,292.79 167.1,294.45 167.3,296.13 167.4,297.83 167.6,299.54 167.7,301.29 167.9,303.06 168.0,304.87 168.2,306.71 168.4,308.59 168.6,310.51 168.8,312.47 169.0,314.48 169.2,316.03 169.3,317.61 169.5,319.22 169.7,320.87 169.8,322.53 170.0,324.23 170.2,325.94 170.4,327.68 170.6,329.43 170.8,331.19 171.0,332.96 171.2,334.75 171.4,336.53 171.6,338.32 171.8,340.11 172.0,341.90 172.3,343.68 172.5,345.45 172.8,347.22 173.0,348.97 173.3,350.71 173.5,352.46 173.8,354.21 174.0,355.97 174.3,357.73 174.6,359.49 174.9,361.25 175.2,363.02 175.5,364.78 175.8,366.55 176.1,368.32 176.4,370.09 176.7,371.85 177.0,373.62 177.3,375.38 177.6,377.14 178.0,378.89 178.3,380.65 178.7,382.39 179.0,384.14 179.4,385.89 179.7,387.67 180.1,389.46 180.5,391.27 180.9,393.08 181.3,394.90 181.7,396.72 182.2,398.54 182.6,400.35 183.0,402.16 183.4,403.94 183.8,405.70 184.3,407.45 184.7,409.16 185.1,410.84 185.5,412.49 185.9,414.09 186.3,415.65 186.6,417.16 187.0,418.62 187.5,420.77 188.1,422.82 188.6,424.77 189.1,426.65 189.5,428.45 190.0,430.19 190.5,431.87 190.9,433.51 191.4,435.12 191.8,436.70 192.2,438.26 192.6,439.82 193.0,441.38 193.5,443.40 193.9,445.37 194.3,447.31 194.7,449.20 195.1,451.03 195.4,452.82 195.8,454.54 196.2,456.20 196.5,457.79 196.9,459.31 197.5,461.60 198.1,463.60 198.7,465.43 199.3,467.20 200.0,469.03 200.7,471.03 201.3,472.66 201.8,474.34 202.4,476.06 203.0,477.80 203.7,479.56 204.3,481.33 205.0,483.09 205.8,484.83 206.6,486.54 207.5,488.23 208.4,489.91 209.4,491.59 210.4,493.30 211.4,495.03 212.3,496.80 213.3,498.62 214.1,500.29 215.0,502.01 215.8,503.76 216.7,505.54 217.5,507.33 218.4,509.13 219.3,510.93 220.1,512.72 221.0,514.48 221.9,516.26 222.7,518.09 223.6,519.93 224.4,521.77 225.3,523.59 226.2,525.36 227.1,527.07 228.0,528.69 229.0,530.21 230.3,532.01 231.6,533.69 233.0,535.25 234.4,536.72 235.8,538.11 237.2,539.43 238.6,540.69 240.6,542.31 242.6,543.74 244.7,545.05 246.7,546.31 248.7,547.59 250.3,548.85 251.6,550.05 253.1,551.23 255.1,552.47 258.3,553.79 260.0,554.41 262.0,555.08 264.2,555.80 266.5,556.54 269.0,557.30 271.6,558.04 274.2,558.77 277.0,559.46 279.7,560.09 282.4,560.66 285.1,561.14 287.8,561.52 290.2,561.78 292.7,561.98 295.3,562.12 297.9,562.20 300.5,562.24 303.1,562.23 305.8,562.19 308.4,562.12 311.0,562.02 313.6,561.91 316.1,561.78 318.6,561.65 321.0,561.52 323.8,561.35 326.4,561.15 329.0,560.92 331.5,560.67 334.0,560.39 336.5,560.07 339.1,559.73 341.6,559.36 344.2,558.96 346.9,558.53 349.7,558.07 352.0,557.67 354.3,557.24 356.7,556.77 359.2,556.27 361.6,555.74 364.1,555.21 366.7,554.66 369.2,554.11 371.7,553.56 374.2,553.01 376.7,552.48 379.1,551.97 381.5,551.49 383.8,551.03 386.5,550.54 389.1,550.06 391.7,549.61 394.2,549.17 396.8,548.75 399.3,548.33 401.8,547.92 404.2,547.52 406.7,547.11 409.1,546.70 411.6,546.29 414.0,545.86 416.6,545.38 419.2,544.89 421.7,544.39 424.2,543.88 426.7,543.37 429.1,542.88 431.7,542.39 434.2,541.93 436.8,541.48 439.5,541.07 442.2,540.69 444.6,540.40 447.1,540.12 449.6,539.87 452.2,539.63 454.8,539.40 457.4,539.19 460.1,538.99 462.7,538.80 465.3,538.62 467.9,538.44 470.5,538.27 473.0,538.10 475.5,537.93 478.3,537.74 481.1,537.56 483.8,537.40 486.5,537.25 489.2,537.11 491.9,536.98 494.5,536.84 497.2,536.71 499.9,536.57 502.6,536.43 505.4,536.28 508.0,536.16 510.6,536.10 513.3,536.08 516.0,536.07 518.7,536.06 521.4,536.03 524.1,535.97 526.8,535.85 529.5,535.66 532.1,535.38 534.8,534.99 537.4,534.48 539.6,533.95 541.8,533.35 544.0,532.69 546.2,531.97 548.4,531.20 550.6,530.37 552.7,529.50 554.9,528.58 557.0,527.62 559.2,526.63 561.3,525.60 563.4,524.54 565.6,523.45 567.7,522.34 569.5,521.37 571.4,520.39 573.2,519.41 575.0,518.41 576.7,517.40 578.5,516.36 580.3,515.29 582.1,514.18 583.8,513.03 585.6,511.82 587.4,510.56 589.3,509.24 591.1,507.84 593.0,506.37 594.9,504.82 596.8,503.17 598.1,502.02 599.4,500.83 600.8,499.60 602.1,498.33 603.5,497.02 604.9,495.67 606.3,494.30 607.7,492.89 609.1,491.46 610.5,490.01 612.0,488.53 613.4,487.03 614.8,485.51 616.2,483.97 617.6,482.43 619.1,480.87 620.5,479.30 621.9,477.73 623.3,476.15 624.6,474.57 626.0,472.99 627.3,471.41 628.7,469.84 630.0,468.28 631.2,466.82 632.4,465.33 633.6,463.81 634.7,462.26 635.9,460.70 637.0,459.11 638.1,457.51 639.2,455.89 640.4,454.27 641.5,452.64 642.6,451.00 643.7,449.36 644.8,447.73 645.9,446.11 647.0,444.49 648.1,442.89 649.2,441.30 650.3,439.73 651.4,438.19 652.5,436.67 653.7,435.18 654.8,433.72 656.0,432.30 657.1,430.91 658.3,429.57 659.5,428.28 661.1,426.63 662.7,425.00 664.3,423.39 665.9,421.80 667.6,420.24 669.2,418.71 670.9,417.21 672.6,415.75 674.3,414.32 676.0,412.94 677.7,411.60 679.4,410.31 681.0,409.07 682.7,407.88 684.4,406.76 686.0,405.69 687.6,404.68 689.3,403.74 690.8,402.87 692.4,402.07 695.2,400.92 697.9,400.19 700.6,399.79 703.2,399.64 705.8,399.63 708.4,399.69 711.0,399.72 713.5,399.63 716.1,399.34 718.7,398.76 721.4,397.79 723.2,396.99 725.0,396.11 726.8,395.15 728.7,394.13 730.5,393.04 732.4,391.88 734.3,390.67 736.2,389.40 738.1,388.08 739.9,386.71 741.7,385.29 743.4,383.83 745.1,382.33 746.8,380.80 748.3,379.23 749.8,377.63 751.2,376.00 752.3,374.56 753.4,373.02 754.4,371.41 755.4,369.73 756.3,367.98 757.2,366.19 758.1,364.37 758.9,362.51 759.7,360.64 760.4,358.76 761.2,356.89 761.9,355.04 762.6,353.21 763.2,351.42 763.9,349.68 764.5,347.99 765.1,346.38 765.7,344.85 766.3,343.41 766.9,342.07 768.0,339.66 768.9,337.55 769.7,335.66 770.4,333.97 771.0,332.40 771.7,330.90 772.3,329.43 772.9,327.93 773.6,326.34 774.4,324.62 775.2,322.98 776.0,321.33 776.8,319.68 777.7,318.02 778.6,316.35 779.4,314.66 780.3,312.96 781.2,311.23 782.1,309.47 782.9,307.68 783.8,305.86 784.5,304.27 785.2,302.61 786.0,300.89 786.7,299.14 787.4,297.37 788.1,295.59 788.9,293.82 789.6,292.07 790.3,290.35 791.0,288.68 791.7,287.08 792.3,285.56 793.0,284.14 794.0,281.99 794.9,280.01 795.8,278.16 796.6,276.43 797.5,274.79 798.5,273.20 799.5,271.66 800.7,270.14 802.2,268.31 803.9,266.39 805.8,264.51 807.6,262.78 809.5,261.33 811.5,260.27 813.3,259.72 815.4,259.80 817.6,260.50 819.8,261.68 822.0,263.20 824.0,264.92 826.0,266.69 827.2,267.95 828.5,269.37 829.6,270.91 830.8,272.54 831.9,274.21 833.0,275.91 834.0,277.57 835.0,279.18 836.0,280.69 837.1,282.52 838.1,284.28 839.0,286.00 839.9,287.69 840.8,289.37 841.8,291.05 843.0,292.76 844.2,294.23 845.4,295.65 846.8,297.04 848.2,298.45 849.6,299.90 851.0,301.42 852.4,303.05 853.7,304.83 854.7,306.36 855.7,307.96 856.7,309.64 857.7,311.38 858.7,313.17 859.7,314.99 860.7,316.84 861.7,318.70 862.7,320.56 863.8,322.41 864.7,323.97 865.7,325.56 866.6,327.18 867.6,328.81 868.6,330.46 869.5,332.11 870.6,333.76 871.6,335.40 872.6,337.03 873.6,338.63 874.7,340.19 875.7,341.72 876.8,343.37 878.0,345.00 879.1,346.62 880.3,348.23 881.5,349.81 882.7,351.37 883.9,352.90 885.1,354.39 886.4,355.85 887.7,357.26 889.0,358.62 890.6,360.28 892.1,361.95 893.7,363.61 895.2,365.22 896.9,366.73 898.7,368.12 900.7,369.35 902.9,370.38 905.5,371.17 907.5,371.57 909.8,371.84 912.3,372.00 915.0,372.06 917.7,372.05 920.6,371.96 923.4,371.82 926.2,371.64 929.0,371.43 931.6,371.21 934.1,371.00 936.3,370.79 938.3,370.62 941.9,370.07 944.7,369.24 947.0,368.32 949.1,367.53 951.2,367.08 953.4,367.17 955.4,367.71 957.4,368.54 959.3,369.63 961.2,370.95 963.2,372.45 965.2,374.10 967.3,375.86 968.7,377.06 970.1,378.35 971.6,379.72 973.0,381.16 974.5,382.66 976.0,384.21 977.6,385.81 979.1,387.44 980.6,389.09 982.2,390.75 983.7,392.41 985.0,393.84 986.4,395.30 987.7,396.79 989.1,398.31 990.5,399.85 991.9,401.41 993.3,402.99 994.6,404.56 996.0,406.15 997.3,407.73 998.6,409.30 999.8,410.87 1001.0,412.41 1002.2,414.09 1003.4,415.80 1004.5,417.51 1005.5,419.24 1006.5,420.96 1007.5,422.68 1008.6,424.38 1009.6,426.06 1010.6,427.71 1011.7,429.33 1012.8,430.90 1014.0,432.41 1015.4,434.02 1016.8,435.58 1018.3,437.11 1019.9,438.59 1021.4,440.05 1023.0,441.47 1024.6,442.86 1026.1,444.22 1027.6,445.55 1029.1,446.86 1030.5,448.14 1032.3,449.83 1034.0,451.42 1035.7,452.94 1037.3,454.41 1038.9,455.86 1040.6,457.32 1042.2,458.80 1044.0,460.34 1045.6,461.80 1047.3,463.32 1049.0,464.89 1050.8,466.47 1052.5,468.03 1054.3,469.53 1056.0,470.94 1057.8,472.24 1059.5,473.38 1061.8,474.65 1064.4,475.76 1067.0,476.73 1069.4,477.56 1071.7,478.26 1073.6,478.84 1075.0,479.31"/></g><ellipse cx="183.8" cy="387" rx="9.7" ry="10.3" fill="none" stroke="#0000dc" stroke-width="3.3"/><ellipse cx="229.7" cy="652.6" rx="9.7" ry="10.3" fill="none" stroke="#0000dc" stroke-width="3.3"/><ellipse cx="274" cy="722" rx="9.7" ry="10.3" fill="none" stroke="#0000dc" stroke-width="3.3"/><ellipse cx="321" cy="742" rx="9.7" ry="10.3" fill="none" stroke="#0000dc" stroke-width="3.3"/><ellipse cx="366.8" cy="745" rx="9.7" ry="10.3" fill="none" stroke="#0000dc" stroke-width="3.3"/><ellipse cx="410.3" cy="734.7" rx="9.7" ry="10.3" fill="none" stroke="#0000dc" stroke-width="3.3"/><ellipse cx="456.6" cy="734.7" rx="9.7" ry="10.3" fill="none" stroke="#0000dc" stroke-width="3.3"/><ellipse cx="501.3" cy="738.5" rx="9.7" ry="10.3" fill="none" stroke="#0000dc" stroke-width="3.3"/><ellipse cx="547.5" cy="731.4" rx="9.7" ry="10.3" fill="none" stroke="#0000dc" stroke-width="3.3"/><ellipse cx="593.7" cy="693" rx="9.7" ry="10.3" fill="none" stroke="#0000dc" stroke-width="3.3"/><ellipse cx="639.3" cy="594.4" rx="9.7" ry="10.3" fill="none" stroke="#0000dc" stroke-width="3.3"/><ellipse cx="686" cy="511" rx="9.7" ry="10.3" fill="none" stroke="#0000dc" stroke-width="3.3"/><ellipse cx="731.5" cy="502.3" rx="9.7" ry="10.3" fill="none" stroke="#0000dc" stroke-width="3.3"/><ellipse cx="777.5" cy="364" rx="9.7" ry="10.3" fill="none" stroke="#0000dc" stroke-width="3.3"/><ellipse cx="823" cy="256" rx="9.7" ry="10.3" fill="none" stroke="#0000dc" stroke-width="3.3"/><ellipse cx="868.9" cy="380.4" rx="9.7" ry="10.3" fill="none" stroke="#0000dc" stroke-width="3.3"/><ellipse cx="915" cy="446" rx="9.7" ry="10.3" fill="none" stroke="#0000dc" stroke-width="3.3"/><ellipse cx="960.3" cy="439.7" rx="9.7" ry="10.3" fill="none" stroke="#0000dc" stroke-width="3.3"/><ellipse cx="1007.7" cy="543.7" rx="9.7" ry="10.3" fill="none" stroke="#0000dc" stroke-width="3.3"/><ellipse cx="1053" cy="623.3" rx="9.7" ry="10.3" fill="none" stroke="#0000dc" stroke-width="3.3"/><polygon points="160.6,405.8 172.6,405.8 177.8,411.0 177.8,423.8 172.6,429.0 160.6,429.0 155.4,423.8 155.4,411.0" fill="#0000dc" stroke="#0000dc" stroke-width="0.5"/><polygon points="190.9,654.4 202.9,654.4 208.1,659.6 208.1,672.4 202.9,677.6 190.9,677.6 185.7,672.4 185.7,659.6" fill="#0000dc" stroke="#0000dc" stroke-width="0.5"/><polygon points="223.0,757.2 235.0,757.2 240.2,762.4 240.2,775.2 235.0,780.4 223.0,780.4 217.8,775.2 217.8,762.4" fill="#0000dc" stroke="#0000dc" stroke-width="0.5"/><polygon points="252.3,791.4 264.3,791.4 269.5,796.6 269.5,809.4 264.3,814.6 252.3,814.6 247.1,809.4 247.1,796.6" fill="#0000dc" stroke="#0000dc" stroke-width="0.5"/><polygon points="282.5,802.4 294.5,802.4 299.7,807.6 299.7,820.4 294.5,825.6 282.5,825.6 277.3,820.4 277.3,807.6" fill="#0000dc" stroke="#0000dc" stroke-width="0.5"/><polygon points="315.4,802.4 327.4,802.4 332.6,807.6 332.6,820.4 327.4,825.6 315.4,825.6 310.2,820.4 310.2,807.6" fill="#0000dc" stroke="#0000dc" stroke-width="0.5"/><polygon points="343.7,797.6 355.7,797.6 360.9,802.8 360.9,815.6 355.7,820.8 343.7,820.8 338.5,815.6 338.5,802.8" fill="#0000dc" stroke="#0000dc" stroke-width="0.5"/><polygon points="377.8,787.4 389.8,787.4 395.0,792.6 395.0,805.4 389.8,810.6 377.8,810.6 372.6,805.4 372.6,792.6" fill="#0000dc" stroke="#0000dc" stroke-width="0.5"/><polygon points="408.0,779.9 420.0,779.9 425.2,785.1 425.2,797.9 420.0,803.1 408.0,803.1 402.8,797.9 402.8,785.1" fill="#0000dc" stroke="#0000dc" stroke-width="0.5"/><polygon points="436.2,772.4 448.2,772.4 453.4,777.6 453.4,790.4 448.2,795.6 436.2,795.6 431.0,790.4 431.0,777.6" fill="#0000dc" stroke="#0000dc" stroke-width="0.5"/><polygon points="469.5,768.4 481.5,768.4 486.7,773.6 486.7,786.4 481.5,791.6 469.5,791.6 464.3,786.4 464.3,773.6" fill="#0000dc" stroke="#0000dc" stroke-width="0.5"/><polygon points="499.4,766.0 511.4,766.0 516.6,771.2 516.6,784.0 511.4,789.2 499.4,789.2 494.2,784.0 494.2,771.2" fill="#0000dc" stroke="#0000dc" stroke-width="0.5"/><polygon points="531.4,763.4 543.4,763.4 548.6,768.6 548.6,781.4 543.4,786.6 531.4,786.6 526.2,781.4 526.2,768.6" fill="#0000dc" stroke="#0000dc" stroke-width="0.5"/><polygon points="561.7,745.8 573.7,745.8 578.9,751.0 578.9,763.8 573.7,769.0 561.7,769.0 556.5,763.8 556.5,751.0" fill="#0000dc" stroke="#0000dc" stroke-width="0.5"/><polygon points="590.8,718.0 602.8,718.0 608.0,723.2 608.0,736.0 602.8,741.2 590.8,741.2 585.6,736.0 585.6,723.2" fill="#0000dc" stroke="#0000dc" stroke-width="0.5"/><polygon points="624.3,667.4 636.3,667.4 641.5,672.6 641.5,685.4 636.3,690.6 624.3,690.6 619.1,685.4 619.1,672.6" fill="#0000dc" stroke="#0000dc" stroke-width="0.5"/><polygon points="653.5,609.4 665.5,609.4 670.7,614.6 670.7,627.4 665.5,632.6 653.5,632.6 648.3,627.4 648.3,614.6" fill="#0000dc" stroke="#0000dc" stroke-width="0.5"/><polygon points="686.4,571.4 698.4,571.4 703.6,576.6 703.6,589.4 698.4,594.6 686.4,594.6 681.2,589.4 681.2,576.6" fill="#0000dc" stroke="#0000dc" stroke-width="0.5"/><polygon points="715.4,565.2 727.4,565.2 732.6,570.4 732.6,583.2 727.4,588.4 715.4,588.4 710.2,583.2 710.2,570.4" fill="#0000dc" stroke="#0000dc" stroke-width="0.5"/><polygon points="745.2,533.6 757.2,533.6 762.4,538.8 762.4,551.6 757.2,556.8 745.2,556.8 740.0,551.6 740.0,538.8" fill="#0000dc" stroke="#0000dc" stroke-width="0.5"/><polygon points="778.0,431.9 790.0,431.9 795.2,437.1 795.2,449.9 790.0,455.1 778.0,455.1 772.8,449.9 772.8,437.1" fill="#0000dc" stroke="#0000dc" stroke-width="0.5"/><polygon points="807.3,365.0 819.3,365.0 824.5,370.2 824.5,383.0 819.3,388.2 807.3,388.2 802.1,383.0 802.1,370.2" fill="#0000dc" stroke="#0000dc" stroke-width="0.5"/><polygon points="837.0,412.9 849.0,412.9 854.2,418.1 854.2,430.9 849.0,436.1 837.0,436.1 831.8,430.9 831.8,418.1" fill="#0000dc" stroke="#0000dc" stroke-width="0.5"/><polygon points="869.7,483.9 881.7,483.9 886.9,489.1 886.9,501.9 881.7,507.1 869.7,507.1 864.5,501.9 864.5,489.1" fill="#0000dc" stroke="#0000dc" stroke-width="0.5"/><polygon points="899.5,526.6 911.5,526.6 916.7,531.8 916.7,544.6 911.5,549.8 899.5,549.8 894.3,544.6 894.3,531.8" fill="#0000dc" stroke="#0000dc" stroke-width="0.5"/><polygon points="932.3,525.8 944.3,525.8 949.5,531.0 949.5,543.8 944.3,549.0 932.3,549.0 927.1,543.8 927.1,531.0" fill="#0000dc" stroke="#0000dc" stroke-width="0.5"/><polygon points="961.3,533.4 973.3,533.4 978.5,538.6 978.5,551.4 973.3,556.6 961.3,556.6 956.1,551.4 956.1,538.6" fill="#0000dc" stroke="#0000dc" stroke-width="0.5"/><polygon points="995.0,586.4 1007.0,586.4 1012.2,591.6 1012.2,604.4 1007.0,609.6 995.0,609.6 989.8,604.4 989.8,591.6" fill="#0000dc" stroke="#0000dc" stroke-width="0.5"/><polygon points="1024.5,638.2 1036.5,638.2 1041.7,643.4 1041.7,656.2 1036.5,661.4 1024.5,661.4 1019.3,656.2 1019.3,643.4" fill="#0000dc" stroke="#0000dc" stroke-width="0.5"/><polygon points="1053.5,674.8 1065.5,674.8 1070.7,680.0 1070.7,692.8 1065.5,698.0 1053.5,698.0 1048.3,692.8 1048.3,680.0" fill="#0000dc" stroke="#0000dc" stroke-width="0.5"/></g>
<path d="M131.5,39.2 H1076 V984.4 H131.5 Z" fill="none" stroke="#333333" stroke-width="3.2" stroke-linejoin="round"/><path d="M255.8,39.2 V59.2 M255.8,984.4 V963.4" stroke="#333333" stroke-width="3.2" stroke-linecap="round"/><path d="M439.4,39.2 V59.2 M439.4,984.4 V963.4" stroke="#333333" stroke-width="3.2" stroke-linecap="round"/><path d="M626.4,39.2 V59.2 M626.4,984.4 V963.4" stroke="#333333" stroke-width="3.2" stroke-linecap="round"/><path d="M813.4,39.2 V59.2 M813.4,984.4 V963.4" stroke="#333333" stroke-width="3.2" stroke-linecap="round"/><path d="M1000.8,39.2 V59.2 M1000.8,984.4 V963.4" stroke="#333333" stroke-width="3.2" stroke-linecap="round"/>
<text transform="translate(1081.51,349.60) scale(0.7473,0.7154)" font-family="Liberation Serif, 'DejaVu Serif', serif" font-size="100">(I) Wet-state</text><text transform="translate(1082.10,655.10) scale(0.7253,0.7154)" font-family="Liberation Serif, 'DejaVu Serif', serif" font-size="100">(II) Dried at RT</text><text transform="translate(1078.96,730.20) scale(0.7348,0.7154)" font-family="Liberation Serif, 'DejaVu Serif', serif" font-size="100">(III) Freeze-dried</text><text transform="translate(1081.61,835.50) scale(0.7221,0.7154)" font-family="Liberation Serif, 'DejaVu Serif', serif" font-size="100">(IV) Native fiber</text><text transform="translate(233.14,1048.60) scale(0.7775,0.7045)" font-family="Liberation Serif, 'DejaVu Serif', serif" font-size="100">5</text><text transform="translate(403.77,1048.60) scale(0.7253,0.7045)" font-family="Liberation Serif, 'DejaVu Serif', serif" font-size="100">10</text><text transform="translate(591.34,1048.60) scale(0.7069,0.7045)" font-family="Liberation Serif, 'DejaVu Serif', serif" font-size="100">15</text><text transform="translate(779.12,1048.60) scale(0.7207,0.7045)" font-family="Liberation Serif, 'DejaVu Serif', serif" font-size="100">20</text><text transform="translate(966.70,1048.60) scale(0.7011,0.7045)" font-family="Liberation Serif, 'DejaVu Serif', serif" font-size="100">25</text><text transform="translate(362.81,1146.80) scale(0.9225,0.8508)" font-family="Liberation Serif, 'DejaVu Serif', serif" font-size="100">2</text><text transform="translate(409.06,1146.75) scale(1.0071,0.7451)" font-family="Liberation Serif, 'DejaVu Serif', serif" font-size="100" font-style="italic">θ</text><text transform="translate(470.99,1146.65) scale(0.7933,0.8485)" font-family="Liberation Serif, 'DejaVu Serif', serif" font-size="100" font-weight="bold">/</text><text transform="translate(515.10,1107.76) scale(0.6762,0.6396)" font-family="Liberation Serif, 'DejaVu Serif', serif" font-size="100">o</text><text transform="translate(568.07,1146.85) scale(0.8577,0.8022)" font-family="Liberation Serif, 'DejaVu Serif', serif" font-size="100">(</text><text transform="translate(594.49,1145.80) scale(0.8772,0.8478)" font-family="Liberation Serif, 'DejaVu Serif', serif" font-size="100">C</text><text transform="translate(650.89,1146.72) scale(0.9149,0.7830)" font-family="Liberation Serif, 'DejaVu Serif', serif" font-size="100">u</text><text transform="translate(695.46,1146.80) scale(0.8132,0.8631)" font-family="Liberation Serif, 'DejaVu Serif', serif" font-size="100">K</text><text transform="translate(756.50,1146.72) scale(0.9333,0.7812)" font-family="Liberation Serif, 'DejaVu Serif', serif" font-size="100" font-style="italic">α</text><text transform="translate(803.62,1145.89) scale(0.8269,0.8100)" font-family="Liberation Serif, 'DejaVu Serif', serif" font-size="100">)</text><text transform="translate(86.5,654.46) rotate(-90) scale(0.8647,0.8677)" font-family="Liberation Serif, 'DejaVu Serif', serif" font-size="100" stroke="#fff" stroke-width="1.5">Intensity</text>
</svg>
</body></html>
